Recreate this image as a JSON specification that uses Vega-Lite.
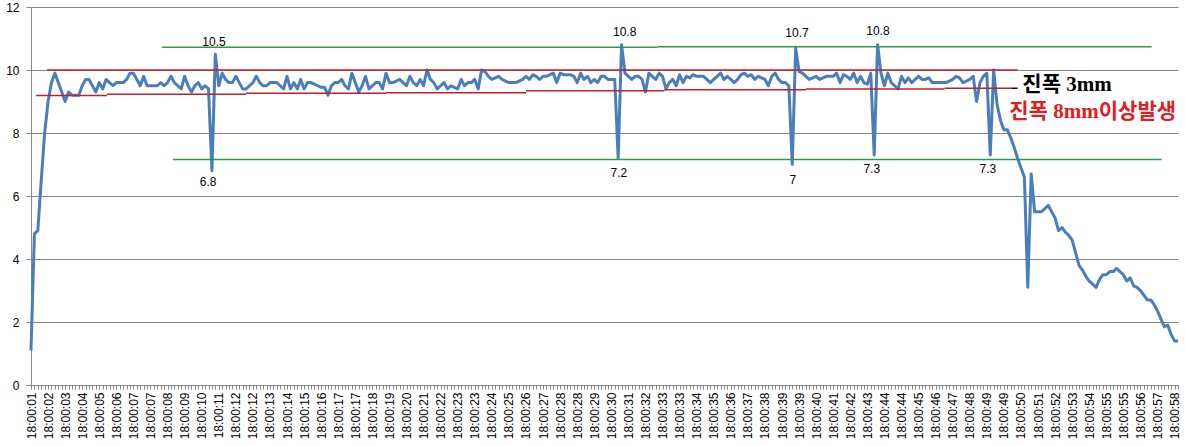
{
  "$schema": "https://vega.github.io/schema/vega-lite/v6.json",
  "width": 1147,
  "height": 378,
  "autosize": {"type": "none"},
  "padding": {"left": 31, "top": 7, "right": 7, "bottom": 61},
  "background": "white",
  "config": {
    "view": {"stroke": null},
    "axis": {
      "domainColor": "#868686",
      "gridColor": "#868686",
      "tickColor": "#868686",
      "labelFont": "Liberation Sans",
      "labelFontSize": 12,
      "labelColor": "#000000"
    }
  },
  "datasets": {
    "series": [
      {"i":0,"v":1.1},{"i":1,"v":4.8},{"i":2,"v":4.9},{"i":3,"v":6.5},{"i":4,"v":8.0},{"i":5,"v":9.0},{"i":6,"v":9.6},{"i":7,"v":9.9},{"i":8,"v":9.6},{"i":9,"v":9.3},
      {"i":10,"v":9.0},{"i":11,"v":9.3},{"i":12,"v":9.2},{"i":13,"v":9.2},{"i":14,"v":9.2},{"i":15,"v":9.5},{"i":16,"v":9.7},{"i":17,"v":9.7},{"i":18,"v":9.5},{"i":19,"v":9.3},
      {"i":20,"v":9.6},{"i":21,"v":9.4},{"i":22,"v":9.7},{"i":23,"v":9.6},{"i":24,"v":9.5},{"i":25,"v":9.6},{"i":26,"v":9.6},{"i":27,"v":9.6},{"i":28,"v":9.7},{"i":29,"v":9.9},
      {"i":30,"v":9.9},{"i":31,"v":9.7},{"i":32,"v":9.5},{"i":33,"v":9.8},{"i":34,"v":9.5},{"i":35,"v":9.5},{"i":36,"v":9.5},{"i":37,"v":9.5},{"i":38,"v":9.6},{"i":39,"v":9.5},
      {"i":40,"v":9.6},{"i":41,"v":9.8},{"i":42,"v":9.6},{"i":43,"v":9.5},{"i":44,"v":9.4},{"i":45,"v":9.8},{"i":46,"v":9.5},{"i":47,"v":9.3},{"i":48,"v":9.5},{"i":49,"v":9.6},
      {"i":50,"v":9.4},{"i":51,"v":9.5},{"i":52,"v":9.4},{"i":53,"v":6.8},{"i":54,"v":10.5},{"i":55,"v":9.5},{"i":56,"v":9.9},{"i":57,"v":9.7},{"i":58,"v":9.6},{"i":59,"v":9.6},
      {"i":60,"v":9.8},{"i":61,"v":9.6},{"i":62,"v":9.4},{"i":63,"v":9.4},{"i":64,"v":9.5},{"i":65,"v":9.6},{"i":66,"v":9.8},{"i":67,"v":9.6},{"i":68,"v":9.5},{"i":69,"v":9.5},
      {"i":70,"v":9.6},{"i":71,"v":9.6},{"i":72,"v":9.6},{"i":73,"v":9.5},{"i":74,"v":9.4},{"i":75,"v":9.8},{"i":76,"v":9.4},{"i":77,"v":9.6},{"i":78,"v":9.4},{"i":79,"v":9.7},
      {"i":80,"v":9.4},{"i":81,"v":9.6},{"i":82,"v":9.6},{"i":83,"v":9.55},{"i":84,"v":9.5},{"i":85,"v":9.45},{"i":86,"v":9.45},{"i":87,"v":9.2},{"i":88,"v":9.5},{"i":89,"v":9.6},
      {"i":90,"v":9.6},{"i":91,"v":9.7},{"i":92,"v":9.5},{"i":93,"v":9.4},{"i":94,"v":9.9},{"i":95,"v":9.6},{"i":96,"v":9.3},{"i":97,"v":9.5},{"i":98,"v":9.8},{"i":99,"v":9.4},
      {"i":100,"v":9.5},{"i":101,"v":9.6},{"i":102,"v":9.6},{"i":103,"v":9.4},{"i":104,"v":9.9},{"i":105,"v":9.6},{"i":106,"v":9.6},{"i":107,"v":9.65},{"i":108,"v":9.7},{"i":109,"v":9.6},
      {"i":110,"v":9.5},{"i":111,"v":9.8},{"i":112,"v":9.6},{"i":113,"v":9.5},{"i":114,"v":9.7},{"i":115,"v":9.5},{"i":116,"v":10.0},{"i":117,"v":9.7},{"i":118,"v":9.6},{"i":119,"v":9.4},
      {"i":120,"v":9.5},{"i":121,"v":9.6},{"i":122,"v":9.4},{"i":123,"v":9.5},{"i":124,"v":9.45},{"i":125,"v":9.4},{"i":126,"v":9.7},{"i":127,"v":9.5},{"i":128,"v":9.6},{"i":129,"v":9.6},
      {"i":130,"v":9.7},{"i":131,"v":9.4},{"i":132,"v":10.0},{"i":133,"v":9.95},{"i":134,"v":9.8},{"i":135,"v":9.7},{"i":136,"v":9.75},{"i":137,"v":9.8},{"i":138,"v":9.7},{"i":139,"v":9.65},
      {"i":140,"v":9.6},{"i":141,"v":9.6},{"i":142,"v":9.6},{"i":143,"v":9.65},{"i":144,"v":9.7},{"i":145,"v":9.8},{"i":146,"v":9.7},{"i":147,"v":9.85},{"i":148,"v":9.8},{"i":149,"v":9.7},
      {"i":150,"v":9.8},{"i":151,"v":9.8},{"i":152,"v":9.85},{"i":153,"v":9.9},{"i":154,"v":9.6},{"i":155,"v":9.9},{"i":156,"v":9.85},{"i":157,"v":9.85},{"i":158,"v":9.85},{"i":159,"v":9.8},
      {"i":160,"v":9.6},{"i":161,"v":9.9},{"i":162,"v":9.7},{"i":163,"v":9.8},{"i":164,"v":9.6},{"i":165,"v":9.7},{"i":166,"v":9.6},{"i":167,"v":9.8},{"i":168,"v":9.8},{"i":169,"v":9.7},
      {"i":170,"v":9.7},{"i":171,"v":9.7},{"i":172,"v":7.2},{"i":173,"v":10.8},{"i":174,"v":9.9},{"i":175,"v":9.8},{"i":176,"v":9.7},{"i":177,"v":9.8},{"i":178,"v":9.8},{"i":179,"v":9.7},
      {"i":180,"v":9.3},{"i":181,"v":9.9},{"i":182,"v":9.8},{"i":183,"v":9.7},{"i":184,"v":9.9},{"i":185,"v":9.8},{"i":186,"v":9.4},{"i":187,"v":9.6},{"i":188,"v":9.7},{"i":189,"v":9.5},
      {"i":190,"v":9.85},{"i":191,"v":9.6},{"i":192,"v":9.8},{"i":193,"v":9.75},{"i":194,"v":9.85},{"i":195,"v":9.8},{"i":196,"v":9.8},{"i":197,"v":9.8},{"i":198,"v":9.7},{"i":199,"v":9.6},
      {"i":200,"v":9.7},{"i":201,"v":9.8},{"i":202,"v":9.9},{"i":203,"v":9.7},{"i":204,"v":9.8},{"i":205,"v":9.7},{"i":206,"v":9.6},{"i":207,"v":9.7},{"i":208,"v":9.85},{"i":209,"v":9.9},
      {"i":210,"v":9.8},{"i":211,"v":9.85},{"i":212,"v":9.7},{"i":213,"v":9.8},{"i":214,"v":9.75},{"i":215,"v":9.7},{"i":216,"v":9.5},{"i":217,"v":9.8},{"i":218,"v":9.9},{"i":219,"v":9.7},
      {"i":220,"v":9.6},{"i":221,"v":9.6},{"i":222,"v":9.5},{"i":223,"v":7.0},{"i":224,"v":10.7},{"i":225,"v":9.95},{"i":226,"v":9.9},{"i":227,"v":9.8},{"i":228,"v":9.7},{"i":229,"v":9.75},
      {"i":230,"v":9.8},{"i":231,"v":9.7},{"i":232,"v":9.75},{"i":233,"v":9.8},{"i":234,"v":9.8},{"i":235,"v":9.8},{"i":236,"v":9.9},{"i":237,"v":9.6},{"i":238,"v":9.85},{"i":239,"v":9.8},
      {"i":240,"v":9.7},{"i":241,"v":9.9},{"i":242,"v":9.6},{"i":243,"v":9.8},{"i":244,"v":9.6},{"i":245,"v":9.55},{"i":246,"v":9.9},{"i":247,"v":7.3},{"i":248,"v":10.8},{"i":249,"v":9.9},
      {"i":250,"v":9.5},{"i":251,"v":9.9},{"i":252,"v":9.6},{"i":253,"v":9.5},{"i":254,"v":9.4},{"i":255,"v":9.8},{"i":256,"v":9.6},{"i":257,"v":9.75},{"i":258,"v":9.6},{"i":259,"v":9.7},
      {"i":260,"v":9.8},{"i":261,"v":9.7},{"i":262,"v":9.7},{"i":263,"v":9.75},{"i":264,"v":9.6},{"i":265,"v":9.6},{"i":266,"v":9.6},{"i":267,"v":9.6},{"i":268,"v":9.6},{"i":269,"v":9.65},
      {"i":270,"v":9.7},{"i":271,"v":9.8},{"i":272,"v":9.75},{"i":273,"v":9.6},{"i":274,"v":9.65},{"i":275,"v":9.7},{"i":276,"v":9.8},{"i":277,"v":9.0},{"i":278,"v":9.6},{"i":279,"v":9.8},
      {"i":280,"v":9.9},{"i":281,"v":7.3},{"i":282,"v":10.0},{"i":283,"v":8.9},{"i":284,"v":8.4},{"i":285,"v":8.1},{"i":286,"v":8.1},{"i":287,"v":7.85},{"i":288,"v":7.55},{"i":289,"v":7.2},
      {"i":290,"v":6.9},{"i":291,"v":6.6},{"i":292,"v":3.1},{"i":293,"v":6.7},{"i":294,"v":5.5},{"i":295,"v":5.5},{"i":296,"v":5.5},{"i":297,"v":5.6},{"i":298,"v":5.7},{"i":299,"v":5.5},
      {"i":300,"v":5.3},{"i":301,"v":4.9},{"i":302,"v":5.0},{"i":303,"v":4.85},{"i":304,"v":4.75},{"i":305,"v":4.6},{"i":306,"v":4.2},{"i":307,"v":3.8},{"i":308,"v":3.65},{"i":309,"v":3.45},
      {"i":310,"v":3.3},{"i":311,"v":3.2},{"i":312,"v":3.1},{"i":313,"v":3.35},{"i":314,"v":3.5},{"i":315,"v":3.5},{"i":316,"v":3.6},{"i":317,"v":3.6},{"i":318,"v":3.7},{"i":319,"v":3.6},
      {"i":320,"v":3.5},{"i":321,"v":3.3},{"i":322,"v":3.4},{"i":323,"v":3.15},{"i":324,"v":3.1},{"i":325,"v":3.0},{"i":326,"v":2.85},{"i":327,"v":2.7},{"i":328,"v":2.7},{"i":329,"v":2.55},
      {"i":330,"v":2.35},{"i":331,"v":2.1},{"i":332,"v":1.85},{"i":333,"v":1.9},{"i":334,"v":1.6},{"i":335,"v":1.4},{"i":336,"v":1.4}
    ],
    "bands": [
      {"kind":"red","i":4.7,"i2":289,"v":10.0},
      {"kind":"red","i":1.5,"i2":22.3,"v":9.19},
      {"kind":"red","i":22.3,"i2":63,"v":9.23},
      {"kind":"red","i":63,"i2":104,"v":9.26},
      {"kind":"red","i":104,"i2":145,"v":9.28},
      {"kind":"red","i":145,"i2":185.5,"v":9.34},
      {"kind":"red","i":185.5,"i2":227,"v":9.37},
      {"kind":"red","i":227,"i2":267.6,"v":9.4},
      {"kind":"red","i":267.6,"i2":287.2,"v":9.42},
      {"kind":"black","i":287.2,"i2":289,"v":9.42},
      {"kind":"green","i":38.4,"i2":183.5,"v":10.72},
      {"kind":"green","i":183.5,"i2":328.3,"v":10.74},
      {"kind":"green","i":41.6,"i2":331.2,"v":7.16}
    ],
    "peaks": [
      {"i":53.6,"v":10.9,"label":"10.5"},
      {"i":51.9,"v":6.43,"label":"6.8"},
      {"i":173.9,"v":11.2,"label":"10.8"},
      {"i":172.2,"v":6.72,"label":"7.2"},
      {"i":224.4,"v":11.17,"label":"10.7"},
      {"i":223.2,"v":6.5,"label":"7"},
      {"i":248.1,"v":11.25,"label":"10.8"},
      {"i":246.3,"v":6.85,"label":"7.3"},
      {"i":280.3,"v":6.87,"label":"7.3"}
    ],
    "notes": [
      {"kind":"amp3","i":290.4,"v":9.52,"note":"진폭  3mm"},
      {"kind":"amp8","i":286.6,"v":8.66,"note":"진폭  8mm이상발생"}
    ]
  },
  "resolve": {"scale": {"color": "independent"}},
  "layer": [
    {
      "data": {"name": "series"},
      "mark": {"type": "line", "color": "#4a7ebb", "strokeWidth": 3, "strokeJoin": "round"},
      "encoding": {
        "x": {
          "field": "i", "type": "quantitative",
          "scale": {"domain": [0, 336], "nice": false, "zero": false},
          "axis": {
            "title": null, "grid": false, "tickCount": 336, "tickSize": 4,
            "labelAngle": 270, "labelAlign": "right", "labelBaseline": "middle",
            "labelPadding": 3, "labelFlush": false, "labelOverlap": false,
            "labelExpr": "datum.value % 5 === 0 && datum.value <= 335 ? ['18:00:01','18:00:02','18:00:03','18:00:04','18:00:05','18:00:06','18:00:07','18:00:07','18:00:08','18:00:09','18:00:10','18:00:11','18:00:12','18:00:12','18:00:13','18:00:14','18:00:15','18:00:16','18:00:17','18:00:17','18:00:18','18:00:19','18:00:20','18:00:21','18:00:22','18:00:23','18:00:23','18:00:24','18:00:25','18:00:26','18:00:27','18:00:28','18:00:28','18:00:29','18:00:30','18:00:31','18:00:32','18:00:33','18:00:33','18:00:34','18:00:35','18:00:36','18:00:37','18:00:38','18:00:39','18:00:39','18:00:40','18:00:41','18:00:42','18:00:43','18:00:44','18:00:44','18:00:45','18:00:46','18:00:47','18:00:48','18:00:49','18:00:49','18:00:50','18:00:51','18:00:52','18:00:53','18:00:54','18:00:55','18:00:55','18:00:56','18:00:57','18:00:58'][datum.value / 5] : ''"
          }
        },
        "y": {
          "field": "v", "type": "quantitative",
          "scale": {"domain": [0, 12], "nice": false},
          "axis": {"title": null, "values": [0, 2, 4, 6, 8, 10, 12], "tickSize": 5, "labelPadding": 7, "grid": true}
        }
      }
    },
    {
      "data": {"name": "bands"},
      "mark": {"type": "rule", "strokeWidth": 1.5},
      "encoding": {
        "x": {"field": "i", "type": "quantitative", "axis": {"title": null}},
        "x2": {"field": "i2"},
        "y": {"field": "v", "type": "quantitative", "axis": {"title": null}},
        "color": {"field": "kind", "type": "nominal", "scale": {"domain": ["red", "green", "black"], "range": ["#c0202a", "#2e9a50", "#000000"]}, "legend": null}
      }
    },
    {
      "data": {"name": "peaks"},
      "mark": {"type": "text", "font": "Liberation Sans", "fontSize": 12, "color": "#000000", "align": "center", "baseline": "middle"},
      "encoding": {
        "x": {"field": "i", "type": "quantitative", "axis": {"title": null}},
        "y": {"field": "v", "type": "quantitative", "axis": {"title": null}},
        "text": {"field": "label"}
      }
    },
    {
      "data": {"name": "notes"},
      "mark": {"type": "text", "font": "Liberation Serif, Noto Sans CJK KR", "fontSize": 21, "fontWeight": "bold", "align": "left", "baseline": "middle"},
      "encoding": {
        "x": {"field": "i", "type": "quantitative", "axis": {"title": null}},
        "y": {"field": "v", "type": "quantitative", "axis": {"title": null}},
        "text": {"field": "note"},
        "color": {"field": "kind", "type": "nominal", "scale": {"domain": ["amp3", "amp8"], "range": ["#000000", "#e31b23"]}, "legend": null}
      }
    }
  ]
}
